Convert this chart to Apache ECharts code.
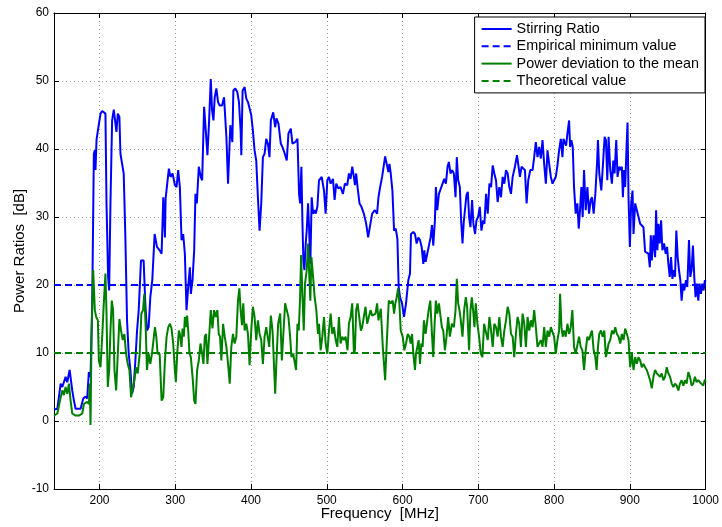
<!DOCTYPE html>
<html><head><meta charset="utf-8">
<script src="https://cdn.jsdelivr.net/npm/echarts@6/dist/echarts.min.js"></script>
<style>html,body{margin:0;padding:0;background:#fff}#c{width:722px;height:527px}</style>
</head><body><div id="c"></div>
<script>
// Frequency [MHz], Stirring Ratio [dB]
const stirringRatio = [
[140,1.7],[144.4,1.8],[148.8,5.5],[151,5.0],[155.3,6.5],[157.5,5.7],[160.6,7.5],[164.1,4.5],[166.3,3.0],[168.5,1.8],[175.1,1.8],[178.6,3.3],[181.6,3.6],[183.8,3.3],[186,7.2],[188.2,6.5],[190.4,17],[192.6,39.3],[193.9,39.8],[194.8,36.9],[196.1,41.3],[197.9,42.7],[201.4,45.2],[203.6,45.6],[205.7,45.4],[207.9,45.2],[209.3,32],[211.4,21.2],[212.8,19.2],[214.5,32],[216.7,44.2],[218.9,45.8],[221.1,45.7],[222.4,42.5],[224.2,45.2],[226.3,44.7],[227.7,39.3],[229.9,37.8],[232,36.4],[234.2,27],[236.4,14.8],[238.6,9.9],[240.8,7.5],[243,4.0],[245.2,5.0],[247.4,8.9],[249.6,13.3],[251.8,16.3],[254.8,23.6],[258.3,23.6],[260.5,17.3],[262.7,13.3],[264.9,13.8],[267.1,18.2],[269.7,20.7],[272.8,27.5],[275.9,25.6],[279.4,25.1],
[282,24.6],[284.2,32.9],[286.4,27],[287.3,32.7],[289.9,32.9],[291.6,37.1],[293.8,35.9],[296.5,36.4],[299.5,34.7],[301.7,34.4],[303.9,36.9],[306.1,34.4],[308.3,26.6],[310.5,27.5],[312.7,24.6],[314.9,16.3],[317.1,19.7],[319.3,22.6],[320.6,18.7],[322.8,20.7],[325,25.1],[326.7,33.4],[328.5,32],[331.1,37.4],[333.7,35.9],[335.5,35.4],[338.1,46.2],[340.3,42.7],[342.5,39.1],[344.7,44.2],[346.9,50.3],[348.6,45.7],[350.4,44.2],[352.1,47.6],[354.3,48.9],[356.5,46.9],[358.7,46.4],[361.8,46.4],[364.4,47.6],[367.5,41.8],[369.7,34.9],[371.4,39.8],[372.7,43.5],[374.5,43.7],[375.4,41],[376.7,48.6],[379.3,48.9],[381.9,48.4],[384.1,46.9],[386.3,42.7],[387.2,39.1],[388.9,48.6],[391.6,49.1],[393.8,47.4],[396,46.9],[398.1,47.1],[400.3,45],[402.5,42.7],[404.7,39.8],[406.9,38.3],[409.1,32.9],[411.3,28],[413.5,32],[415.7,38.8],[417.9,39.3],[420.1,41.5],[422.3,40.8],[424.4,38.8],
[426.2,44.2],[429.3,45.4],[431.9,43.2],[433.6,44.5],[436.3,43.7],[439.3,40.8],[441.5,40.3],[443.7,39.6],[445.9,39.8],[447.2,38.3],[449.4,42.3],[452.5,43.0],[454.7,40.8],[458.2,41],[461.3,41.5],[463.4,33.4],[464.8,32],[466.5,37.4],[467.8,29.5],[469.1,23.6],[470.5,22.2],[472.2,26.1],[473.5,28],[475.3,32],[476.6,28.5],[478.3,23.1],[480.1,32.9],[481.9,30.5],[483.6,31],[485.4,30.5],[487.6,31.5],[489.7,35.4],[493.3,35.9],[496.3,33.9],[498.5,30.5],[500.7,35.4],[502.9,35.9],[505.1,34.9],[508.2,35.6],[510.3,32.5],[512.5,34.9],[515.2,34.2],[518.2,34.4],[521.3,33.4],[523.9,34.9],[527,34.7],[529.2,36.4],[531.4,35.6],[533.6,37.4],[535.8,35.9],[537.1,34.7],[538.8,36.4],[540.6,34.4],[543.2,32],[545.8,31.5],[548.9,30.5],[552,29],[554.6,27],[556.8,28.5],[559.9,30.5],[563.4,31],[566.4,30.5],
[568.2,32.9],[570.4,34.4],[573,35.9],[575.6,36.1],[577,38.9],[579.1,37.8],[581.3,36.6],[582.7,37.8],[584.4,36.4],[586.6,33.9],[588.8,28],[591,28.3],[593.2,26.8],[594.9,19.7],[596.7,18.2],[599.3,17.3],[601.9,15.3],[604.6,17.3],[607.6,20.7],[609.8,21.7],[611.1,27.5],[614.2,27.8],[616.4,27.5],[618.6,26.1],[620.8,27],[623,26.6],[625.2,25.6],[627.4,23.1],[628.7,25.1],[630.4,23.4],[632.6,24.6],[634.8,24.6],[637,27],[638.8,28.8],[640.5,25.8],[642.7,29.5],[644,34.4],[645.8,31],[648,33.4],[650.6,33.4],[652.8,34.9],[655,35.6],[657.2,34.9],[659.4,37.4],[661.1,38.1],[663.3,36.4],[665.5,36.9],[667.7,36.4],[669.9,32.9],[671.6,38.8],[673.4,35.4],[675.6,34.4],[677.3,29.5],[679.1,26.1],[680.8,29.3],[682.6,29.5],[684.3,33.2],[686.1,33.7],[687.8,30],[689.6,28.5],[691.8,32.5],[693.5,29],[695.7,27.5],[697.5,29.5],[699.7,30],[701.9,31.5],[704.1,28],[706.3,29.5],
[708,29],[710.2,33.4],[712.4,30.5],[714.6,34.9],[716.8,34.4],[719,37.6],[721.1,36.4],[723.3,35.4],[725.5,32.2],[727.7,34.4],[729.9,32.9],[732.1,35.9],[734.3,34.9],[736.5,36.9],[738.7,36.4],[740.9,34.4],[743.1,33.4],[745.3,35.9],[748.3,37.4],[751,39.1],[753.1,37.4],[754.9,35.9],[757.1,37.4],[759.7,37.4],[761.5,36.9],[763.7,32],[765.9,35.4],[768.5,36.9],[771.6,36.9],[773.7,38.8],[775.9,41],[778.1,38.8],[780.3,40.3],[782.5,38.6],[784.7,41.3],[786.9,37.8],[789.1,34.9],[791.3,39.8],[793.5,37.8],[795.7,35.9],[797.9,34.9],[800,35.4],[802.2,35.9],[804.4,37.6],[806.6,39.8],[808.8,41.5],[811,38.8],[812.3,41.5],[814.1,41.3],[815.8,40.5],[817.6,42.3],[819.8,44.2],[821.1,40.3],[822.8,41.3],[824.6,40.3],[826.3,34.4],[828.5,30.5],[830.7,32],[832.5,28.3],[834.2,31],[836,34.4],[837.7,30],[839.5,36.9],[841.7,31],[843.9,34.4],[846.1,30.5],[848.3,32.5],
[850,32.9],[852.2,30.5],[854.4,33.4],[856.6,37.8],[857.9,41.3],[859.6,36.4],[862.3,33.9],[864.5,37.8],[866.7,41.8],[868.4,41.3],[870.2,35.4],[871.9,41.8],[874.1,36.9],[876.3,34.9],[878.1,38.3],[879.8,36.4],[882,41.3],[883.7,35.9],[885.9,37.4],[887.7,36.9],[889.4,37.4],[890.8,32.9],[892.1,36.9],[893.8,34.4],[895.6,40.3],[896.9,43.9],[898.2,32.9],[900,25.6],[901.7,32],[903.5,33.9],[904.8,27.5],[907,32],[909.2,31],[911.4,30],[913.6,29],[915.7,29],[917.9,28.5],[920.1,24.9],[922.3,25.1],[924.5,24.6],[926.3,22.6],[927.6,27.3],[928.9,23.6],[931.1,27.3],[933.3,24.1],[934.6,31],[936.3,25.1],[937.7,29],[939.4,26.1],[941.2,29.5],[942.9,25.1],[945.1,26.1],[947.3,24.6],[949.1,25.6],[950.8,23.1],[952.6,21.2],[954.3,24.1],[956.1,20.9],[957.8,22.2],[959.6,21.2],[961.3,28],[963.1,24.1],[964.8,22.2],[966.6,20.7],[968.3,17.7],[970.1,20.2],[971.8,19.2],[974,20.7],[975.8,19.7],[978,26.6],[979.7,21.2],[981.5,22.2],[983.2,25.8],[985,21.2],[986.7,18.2],[988.5,20.2],[990.3,17.7],[992,20.2],[993.8,18.7],[995.5,20.2],[997.3,19.2],[999,20.7],[1000,20.5]
];
// Frequency [MHz], Power deviation to the mean [dB]
const powerDeviation = [
[140,0.8],[144.4,1.1],[146.6,1.3],[148.8,3.5],[151,4.5],[153.1,3.8],[155.3,5.0],[157.5,4.0],[159.7,5.5],[161.9,3.0],[164.1,1.1],[168.5,0.8],[172.9,0.8],[177.3,1.1],[179.4,2.5],[181.6,2.3],[183.8,2.8],[186,2.5],[187.3,5.5],[188.2,-0.6],[189.5,12.4],[191.7,22.2],[193.9,16.3],[195.7,15.3],[197.9,14.8],[199.2,8.9],[201.4,7.9],[203.6,12.4],[205.7,17.3],[207.9,21.7],[209.3,15.8],[211,5.0],[212.8,7.5],[214.5,13.3],[216.3,17.7],[218,16.3],[219.8,7.5],[222,4.5],[224.2,9.9],[226.3,15],[228.5,13.3],[230.7,11.9],[232.9,12.8],[235.1,9.9],[237.3,8.4],[239.5,7.5],[241.7,3.5],[243.9,3.3],[246.1,6.0],[248.3,7.9],[250.5,7.0],[253.1,9.9],[255.3,15.8],[257.5,16.3],[259.2,18.7],[261,13.8],[262.7,7.5],[264.9,9.9],[267.1,8.4],[269.3,9.9],[271.5,9.9],[273.2,13.8],[275,12.4],[276.7,9.9],[279.4,9.9],
[282,3.0],[284.2,3.5],[286.4,8.9],[288.6,12.4],[290.8,13.8],[293,14.3],[295.1,13.6],[297.3,11.4],[299.5,7.5],[300.8,5.7],[302.6,9.9],[304.8,13.3],[306.1,12.8],[308.3,10.9],[309.6,13.6],[311.4,12.4],[312.7,15.3],[314,13.8],[315.7,15.5],[317.1,13.3],[318.8,9.9],[320.6,9.4],[323.2,6.0],[325,3.0],[326.7,2.5],[328.9,7.5],[331.1,8.9],[333.3,11.4],[335.5,9.9],[337.2,8.4],[339,12.4],[340.7,12.8],[342.5,8.4],[344.7,12.4],[346.9,16.3],[349.1,13.6],[351.3,16.3],[353.4,15.3],[355.6,16.3],[357.4,12.8],[359.1,12.4],[360.9,8.9],[363.1,14.3],[365.3,12.4],[367.5,10.9],[369.7,8.4],[371.9,5.5],[374,10.9],[376.2,12.8],[378.4,11.4],[380.6,12.4],[382.8,17.7],[384.6,19.5],[386.3,16.3],[388.1,14.1],[389.8,17.3],[391.6,13.3],[393.8,14.3],[396,12.8],[398.1,8.2],[400.3,13.3],[402.5,16.8],[404.7,15.3],[406.9,11.9],[409.1,14.8],[411.3,12.8],[413.5,11.9],[415.7,8.4],[417.9,12.4],[420.1,13.8],[422.3,13.8],
[424,10.9],[426.2,15.5],[428.4,13.3],[430.6,7.5],[431.9,4.0],[433.6,8.9],[435.8,14.3],[438.5,15.8],[440.7,8.9],[442.8,8.9],[445,17.3],[447.2,16.3],[449.4,15.3],[451.6,12.4],[453.4,9.4],[455.6,9.9],[457.7,9.7],[459.5,7.5],[461.3,14.3],[463,13.3],[464.8,18.2],[466.1,24.4],[467.8,18.7],[469.6,13.3],[471.3,20.2],[473.5,22.2],[475.3,26.1],[476.6,22.2],[478.3,17.7],[479.7,24.1],[481.9,21.2],[484,18.2],[486.2,16.3],[488.4,12.8],[489.7,14.3],[491.9,10.4],[494.1,12.4],[496.3,15.3],[498.5,11.4],[500.7,9.9],[502.9,13.3],[505.1,15.8],[507.3,12.8],[509.5,13.8],[511.7,11.9],[513.9,10.9],[516,15.3],[518.2,11.4],[520.4,12.4],[522.6,11.9],[524.8,12.4],[527.4,10.4],[529.2,14.3],[531.4,15.3],[533.6,17.3],[535.8,9.9],[537.1,10.4],[538.8,16.3],[540.6,17.3],[542.8,15.3],[545,13.3],[546.7,13.8],[548.9,13.8],[551.1,16.8],[553.3,14.3],[555.5,14.3],[557.7,16.3],[559.9,15.5],[562.1,15.3],[564.3,15.8],[566.4,17.3],
[568.2,14.8],[571.3,16.5],[573.9,10.9],[577,6.0],[579.1,11.4],[581.8,17.7],[584.4,17.3],[587,17.7],[588.8,15.8],[590.5,17.3],[592.3,18.2],[594.1,19.5],[595.8,17.3],[597.6,13.3],[600.2,12.4],[602.4,10.4],[604.6,11.4],[606.8,12.8],[609,12.4],[610.7,11.4],[612.5,12.8],[614.2,9.9],[616.4,7.5],[617.7,9.9],[619.5,10.9],[621.2,11.9],[623,8.4],[624.7,11.4],[626.5,10.9],[628.2,14.8],[630.4,12.8],[632.6,12.8],[634.4,16.3],[636.6,17.7],[638.8,12.8],[640.5,9.4],[642.3,14.3],[644,17.7],[645.8,15.8],[648,17.3],[650.2,15.3],[651.9,13.8],[653.7,13.3],[655.9,10.4],[658,12.4],[660.2,15.3],[662.4,12.4],[665.1,14.3],[667.7,13.8],[669.9,16.3],[671.6,20.9],[673.4,17.3],[675.1,16.3],[676.9,14.8],[679.1,12.4],[681.3,16.3],[683.5,18.2],[685.2,16.8],[687.8,10.4],[689.6,16.3],[691.4,18.2],[693.1,16.3],[694.9,13.8],[696.6,17.3],[698.8,14.3],[701,12.4],[703.2,9.9],[705.4,9.4],[707.6,14.3],
[710.2,14.3],[712.4,11.9],[714.6,15.3],[716.8,13.3],[719,10.9],[721.1,14.3],[723.3,13.8],[725.5,12.4],[727.7,15.3],[729.9,12.4],[732.1,10.9],[734.3,13.3],[736.5,14.8],[738.7,16.8],[740.9,15.8],[743.1,12.8],[745.3,12.4],[747.4,9.4],[749.6,12.8],[751.8,15.3],[754,14.3],[756.2,10.9],[758.4,15.8],[760.6,14.3],[762.8,10.9],[765,15.3],[767.2,13.3],[769.4,14.8],[771.6,13.8],[773.7,16.3],[775.9,13.8],[778.1,10.9],[780.3,11.4],[782.5,11.9],[784.7,10.9],[786.9,13.8],[789.1,10.9],[791.3,13.3],[793.5,12.4],[795.7,13.8],[797.9,13.8],[800,12.4],[802.2,9.9],[804.4,11.9],[806.6,13.3],[807.9,18.7],[809.7,13.8],[811.4,12.4],[813.2,13.3],[815.4,12.4],[817.6,14.3],[819.8,12.8],[822,13.8],[824.1,16.3],[826.3,10.9],[828.5,9.9],[830.7,9.9],[832.9,12.4],[835.1,10.9],[837.3,10.4],[839.5,7.5],[841.7,10.4],[843.9,12.4],[846.1,11.9],[848.3,12.8],
[850,13.3],[852.2,10.4],[854.4,9.4],[856.1,7.5],[857.9,10.9],[859.6,12.8],[861.8,13.3],[864,12.4],[866.2,13.3],[868.4,9.4],[870.2,10.4],[871.9,11.4],[874.1,11.9],[876.3,13.3],[878.5,12.8],[880.7,13.8],[882.9,12.8],[885.1,12.4],[887.3,11.4],[889.4,12.8],[891.6,11.9],[893.8,13.6],[896,12.8],[898.2,11.9],[900.4,7.9],[902.6,9.9],[904.8,7.5],[907,9.4],[909.2,8.4],[911.4,9.4],[913.6,8.9],[915.7,7.9],[917.9,8.4],[920.1,7.9],[922.3,7.5],[924.5,7.5],[926.7,6.0],[928.9,4.8],[931.1,6.5],[933.3,7.5],[935.5,7.0],[937.7,7.2],[939.9,6.5],[942,7.0],[944.2,6.0],[946.4,6.5],[948.6,7.9],[950.8,7.0],[953,6.5],[955.2,5.5],[957.4,5.0],[959.6,5.5],[961.8,5.2],[964,4.5],[966.1,5.5],[968.3,6.0],[970.5,5.2],[972.7,6.0],[974.9,5.5],[977.1,7.2],[979.3,6.5],[981.5,5.2],[983.7,5.5],[985.9,6.5],[988.1,5.7],[990.3,6.0],[992.4,5.7],[994.6,5.5],[996.8,5.2],[999,6.1],[1000,5.8]
];
const freqRange = [140, 1000];
const empiricalMinimum = 20;   // dB
const theoreticalValue = 10;   // dB
const xTicks = [200, 300, 400, 500, 600, 700, 800, 900, 1000];
const yMin = -10, yMax = 60, yStep = 10;

const FONT = 'Liberation Sans, Arial, sans-serif';
const chart = echarts.init(document.getElementById('c'), null, {renderer: 'canvas'});
const gridLine = {show: true, lineStyle: {color: '#9a9a9a', type: [1, 3], width: 1}};
const axisLineBlack = {show: true, onZero: false, lineStyle: {color: '#000', width: 1}};
const tick = {show: true, inside: true, length: 5, lineStyle: {color: '#000', width: 1}};

chart.setOption({
  animation: false,
  backgroundColor: '#fff',
  textStyle: {fontFamily: FONT},
  grid: {left: 54, right: 14, top: 13, bottom: 38, containLabel: false},
  legend: {
    orient: 'vertical', right: 17, top: 17,
    backgroundColor: '#fff', borderColor: '#000', borderWidth: 1,
    padding: [5, 6, 5, 6], itemWidth: 30, itemHeight: 12, itemGap: 3.3,
    itemStyle: {opacity: 0},
    textStyle: {fontFamily: FONT, fontSize: 14.4, color: '#000'},
    data: ['Stirring Ratio', 'Empirical minimum value', 'Power deviation to the mean', 'Theoretical value']
  },
  xAxis: [{
    type: 'value', min: freqRange[0], max: freqRange[1], position: 'bottom',
    name: 'Frequency  [MHz]', nameLocation: 'middle', nameGap: 17, nameMoveOverlap: false,
    nameTextStyle: {fontFamily: FONT, fontSize: 15, color: '#000'},
    axisLine: axisLineBlack,
    axisTick: Object.assign({}, tick, {customValues: xTicks}),
    axisLabel: {customValues: xTicks, formatter: v => String(v), fontFamily: FONT, fontSize: 12, color: '#000', margin: 6},
    splitLine: gridLine
  }, {
    type: 'value', min: freqRange[0], max: freqRange[1], position: 'top',
    axisLine: axisLineBlack,
    axisTick: Object.assign({}, tick, {customValues: xTicks}),
    axisLabel: {show: false}, splitLine: {show: false}
  }],
  yAxis: [{
    type: 'value', min: yMin, max: yMax, interval: yStep, position: 'left',
    name: 'Power Ratios  [dB]', nameLocation: 'middle', nameGap: 27, nameMoveOverlap: false,
    nameTextStyle: {fontFamily: FONT, fontSize: 15, color: '#000'},
    axisLine: axisLineBlack, axisTick: tick,
    axisLabel: {fontFamily: FONT, fontSize: 12, color: '#000', margin: 5},
    splitLine: gridLine
  }, {
    type: 'value', min: yMin, max: yMax, interval: yStep, position: 'right',
    axisLine: axisLineBlack, axisTick: tick,
    axisLabel: {show: false}, splitLine: {show: false}
  }],
  series: [{
    name: 'Stirring Ratio', type: 'line', data: stirringRatio, symbol: 'none',
    lineStyle: {color: '#0000ff', width: 2}, itemStyle: {color: '#0000ff'}
  }, {
    name: 'Empirical minimum value', type: 'line', symbol: 'none',
    data: freqRange.map(f => [f, empiricalMinimum]),
    lineStyle: {color: '#0000ff', width: 2, type: [7, 4]}, itemStyle: {color: '#0000ff'}
  }, {
    name: 'Power deviation to the mean', type: 'line', data: powerDeviation, symbol: 'none',
    lineStyle: {color: '#008000', width: 2}, itemStyle: {color: '#008000'}
  }, {
    name: 'Theoretical value', type: 'line', symbol: 'none',
    data: freqRange.map(f => [f, theoreticalValue]),
    lineStyle: {color: '#008000', width: 2, type: [7, 4]}, itemStyle: {color: '#008000'}
  }]
});
</script>
</body></html>
